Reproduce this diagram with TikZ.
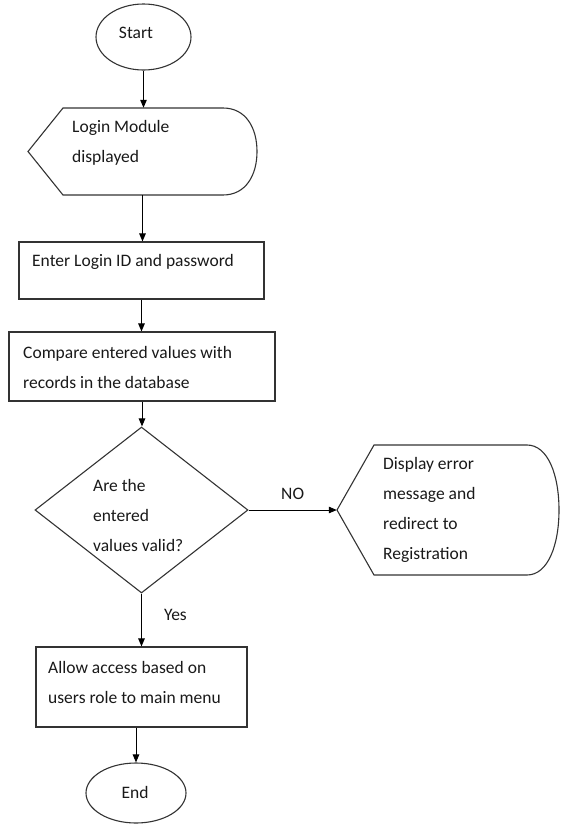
\documentclass[tikz,border=0pt]{standalone}
\usepackage{fontspec}
\setmainfont{Carlito}
\usetikzlibrary{shapes.geometric,arrows.meta}

\begin{document}
\begin{tikzpicture}[x=1pt,y=-1pt,
  outline/.style={draw=black!80, line width=1.1pt},
  box/.style={outline, rectangle, inner sep=0pt},
  terminal/.style={outline, ellipse, inner sep=0pt},
  decision/.style={outline, diamond, inner sep=0pt},
  frame/.style={rectangle, inner sep=0pt},
  flow/.style={draw=black, line width=1pt, -{Triangle[width=6.5pt,length=8pt]}},
  lbl/.style={font=\fontsize{17.5}{30}\selectfont, text=black!90, inner sep=0pt, align=left},
  tag/.style={font=\fontsize{17.5}{20}\selectfont, text=black!90, inner sep=0pt}
]
\useasboundingbox (0,0) rectangle (560,825);

% start terminal
\node[terminal, minimum width=95pt, minimum height=66pt] (nstart) at (143.5,37) {};
\node[tag] at (136,33) {Start};

% display symbol: Login Module
\node[frame, minimum width=229pt, minimum height=87pt] (ndisp) at (142.5,151.5) {};
\draw[outline] (28,151.5) -- (63,108) -- (223,108)
  .. controls (246,108) and (257,128) .. (257,151.5)
  .. controls (257,175) and (246,195) .. (223,195)
  -- (63,195) -- cycle;
\node[lbl, anchor=west] at (72,143) {Login Module\\displayed};

% process boxes
\node[box, minimum width=245pt, minimum height=57pt] (nenter) at (141.5,270.5) {};
\node[lbl, anchor=west] at (32,262) {Enter Login ID and password};

\node[box, minimum width=266pt, minimum height=69pt] (ncomp) at (142,366.5) {};
\node[lbl, anchor=west] at (23,367) {Compare entered values with\\records in the database};

% decision
\node[decision, minimum width=213pt, minimum height=166pt] (ndec) at (141.5,510) {};
\node[lbl, anchor=west] at (93,515) {Are the\\entered\\values valid?};

% display symbol: error message
\node[frame, minimum width=223pt, minimum height=130pt] (nerr) at (448.5,510) {};
\draw[outline] (337,510) -- (374,445) -- (527,445)
  .. controls (548,445) and (559,475) .. (559,510)
  .. controls (559,545) and (548,575) .. (527,575)
  -- (374,575) -- cycle;
\node[lbl, anchor=west] at (383,510) {Display error\\message and\\redirect to\\Registration};

\node[box, minimum width=211pt, minimum height=80pt] (nallow) at (141.5,687) {};
\node[lbl, anchor=west] at (48,682) {Allow access based on\\users role to main menu};

% end terminal
\node[terminal, minimum width=100pt, minimum height=60pt] (nend) at (136,793) {};
\node[tag] at (135,792) {End};

% connectors
\draw[flow] (nstart.south) -- (nstart.south |- ndisp.north);
\draw[flow] (ndisp.south) -- (ndisp.south |- nenter.north);
\draw[flow] (nenter.south) -- (nenter.south |- ncomp.north);
\draw[flow] (ncomp.south) -- (ncomp.south |- ndec.north);
\draw[flow] (ndec.east) -- node[tag, above=10pt] {NO} (nerr.west);
\draw[flow] (ndec.south) -- node[tag, right=22pt, pos=0.4] {Yes} (ndec.south |- nallow.north);
\draw[flow] (nend.north |- nallow.south) -- (nend.north);
\end{tikzpicture}
\end{document}
